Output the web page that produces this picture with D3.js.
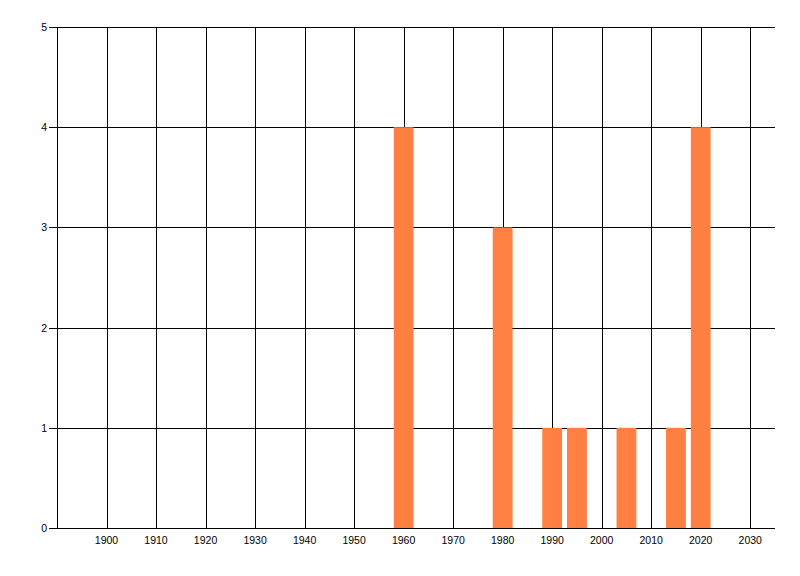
<!DOCTYPE html>
<html>
<head>
<meta charset="utf-8">
<script src="https://cdn.jsdelivr.net/npm/d3@7"></script>
<style>
  html, body { margin: 0; padding: 0; background: #fff; }
  svg { display: block; }
  text { font-family: "Liberation Sans", Arial, sans-serif; font-size: 10.5px; fill: #000; }
</style>
</head>
<body>
<svg id="chart" width="800" height="576"></svg>
<script>
// Data
const years = [1960, 1980, 1990, 1995, 2005, 2015, 2020];
const counts = [4, 3, 1, 1, 1, 1, 4];
const xTicks = [1900, 1910, 1920, 1930, 1940, 1950, 1960, 1970, 1980, 1990, 2000, 2010, 2020, 2030];
const yTicks = [0, 1, 2, 3, 4, 5];
const xDomain = [1890, 2035];
const yDomain = [0, 5];
const barYears = 4;

const svg = d3.select("#chart");
const m = { left: 57, right: 775, top: 27, bottom: 528 };

const x = d3.scaleLinear().domain(xDomain).range([m.left, m.right]);
const y = d3.scaleLinear().domain(yDomain).range([m.bottom, m.top]);

// vertical gridlines
svg.append("g").selectAll("line").data(xTicks).join("line")
  .attr("x1", d => Math.round(x(d)) + 0.5).attr("x2", d => Math.round(x(d)) + 0.5)
  .attr("y1", m.top).attr("y2", m.bottom)
  .attr("stroke", "#000").attr("stroke-width", 1);

// horizontal gridlines (with tick extension to the left)
svg.append("g").selectAll("line").data(yTicks).join("line")
  .attr("x1", m.left - 8).attr("x2", m.right)
  .attr("y1", d => Math.round(y(d)) + 0.5).attr("y2", d => Math.round(y(d)) + 0.5)
  .attr("stroke", "#000").attr("stroke-width", 1);

// left axis line
svg.append("line")
  .attr("x1", m.left + 0.5).attr("x2", m.left + 0.5)
  .attr("y1", m.top).attr("y2", m.bottom)
  .attr("stroke", "#000");

// bars
const data = years.map((yr, i) => ({ yr, v: counts[i] }));
svg.append("g").selectAll("rect").data(data).join("rect")
  .attr("x", d => x(d.yr - barYears / 2))
  .attr("width", d => x(d.yr + barYears / 2) - x(d.yr - barYears / 2))
  .attr("y", d => y(d.v))
  .attr("height", d => y(0) - y(d.v))
  .attr("fill", "#ff8040");

// redraw baseline over bars
svg.append("line")
  .attr("x1", m.left - 8).attr("x2", m.right)
  .attr("y1", Math.round(y(0)) + 0.5).attr("y2", Math.round(y(0)) + 0.5)
  .attr("stroke", "#000");

// x labels
svg.append("g").selectAll("text").data(xTicks).join("text")
  .attr("x", d => x(d)).attr("y", m.bottom + 16)
  .attr("text-anchor", "middle")
  .text(d => d);

// y labels
svg.append("g").selectAll("text").data(yTicks).join("text")
  .attr("x", m.left - 10).attr("y", d => y(d) + 4)
  .attr("text-anchor", "end")
  .text(d => d);
</script>
</body>
</html>
